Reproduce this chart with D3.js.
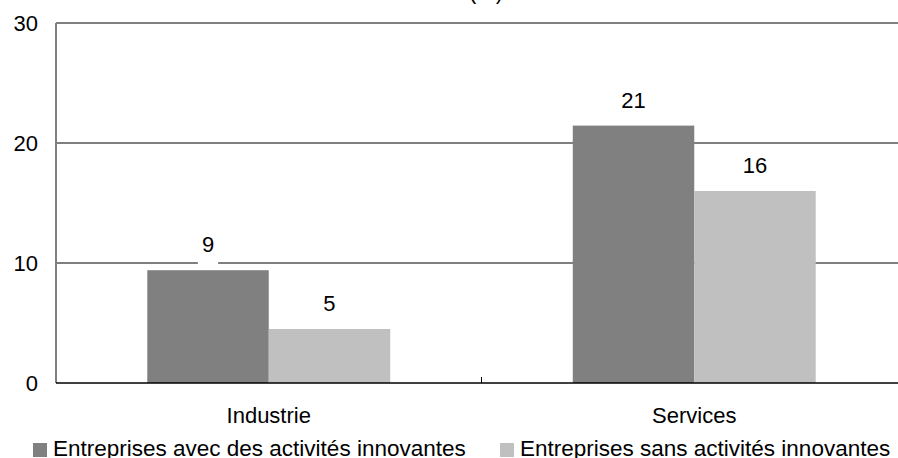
<!DOCTYPE html>
<html><head><meta charset="utf-8">
<script src="https://cdn.jsdelivr.net/npm/d3@7"></script>
<style>html,body{margin:0;padding:0;background:#fff;overflow:hidden}svg{display:block}</style>
</head><body>
<script>
const categories = ["Industrie", "Services"];
const seriesNames = ["Entreprises avec des activités innovantes", "Entreprises sans activités innovantes"];
const avecValues = [9.4, 21.45];
const sansValues = [4.5, 16.0];
const valueLabels = [["9", "21"], ["5", "16"]];
const yTicks = [0, 10, 20, 30];
const colors = ["#808080", "#c0c0c0"];

const W = 898, H = 458;
const margin = {left: 56, top: 23, right: -9, bottom: 75};
const font = "'Liberation Sans', Arial, sans-serif";
const fs = 22;

const svg = d3.select("body").append("svg").attr("width", W).attr("height", H);
const x0 = d3.scaleBand().domain(categories).range([margin.left, W - margin.right]).padding(0);
const y = d3.scaleLinear().domain([0, 30]).range([H - margin.bottom, margin.top]);
const groupFrac = 0.571;
const x1 = d3.scaleBand().domain([0, 1]).range([0, x0.bandwidth() * groupFrac]).padding(0);
const groupOffset = x0.bandwidth() * (1 - groupFrac) / 2;

// gridlines
svg.append("g").selectAll("line").data(yTicks.filter(t => t > 0 && t < 30)).join("line")
  .attr("x1", margin.left).attr("x2", W - margin.right)
  .attr("y1", d => y(d)).attr("y2", d => y(d))
  .attr("stroke", "#000").attr("stroke-width", 1);

// plot border (top & left)
svg.append("line").attr("x1", margin.left).attr("x2", W - margin.right)
  .attr("y1", y(30)).attr("y2", y(30)).attr("stroke", "#808080").attr("stroke-width", 2);
svg.append("line").attr("x1", margin.left).attr("x2", margin.left)
  .attr("y1", y(30)).attr("y2", y(0)).attr("stroke", "#808080").attr("stroke-width", 2);

const series = [avecValues, sansValues];
const data = [];
categories.forEach((c, ci) => series.forEach((s, si) => data.push({c, ci, si, v: s[ci], label: valueLabels[si][ci]})));

svg.append("g").selectAll("rect").data(data).join("rect")
  .attr("x", d => x0(d.c) + groupOffset + x1(d.si))
  .attr("width", x1.bandwidth())
  .attr("y", d => y(d.v))
  .attr("height", d => y(0) - y(d.v))
  .attr("fill", d => colors[d.si]);

// value labels with white background
const lg = svg.append("g");
data.forEach(d => {
  const cx = x0(d.c) + groupOffset + x1(d.si) + x1.bandwidth() / 2;
  const by = y(d.v) - 18;
  const t = lg.append("text").attr("x", cx).attr("y", by).attr("text-anchor", "middle")
    .attr("font-family", font).attr("font-size", fs).attr("fill", "#000").text(d.label);
  const bb = t.node().getBBox();
  lg.insert("rect", "text").attr("x", bb.x - 4).attr("y", bb.y).attr("width", bb.width + 8)
    .attr("height", bb.height + 8).attr("fill", "#fff");
});

// baseline axis
svg.append("line").attr("x1", margin.left).attr("x2", W - margin.right)
  .attr("y1", y(0)).attr("y2", y(0)).attr("stroke", "#000").attr("stroke-width", 1.5);
// category separator ticks (inside)
const seps = categories.slice(1).map(c => x0(c));
svg.append("g").selectAll("line").data(seps).join("line")
  .attr("x1", d => d).attr("x2", d => d).attr("y1", y(0)).attr("y2", y(0) - 6)
  .attr("stroke", "#000").attr("stroke-width", 1);

// category labels
svg.append("g").selectAll("text").data(categories).join("text")
  .attr("x", d => x0(d) + x0.bandwidth() / 2).attr("y", 423)
  .attr("text-anchor", "middle").attr("font-family", font).attr("font-size", fs).text(d => d);

// y tick labels
svg.append("g").selectAll("text").data(yTicks).join("text")
  .attr("x", 38).attr("y", d => y(d)).attr("dy", "0.35em")
  .attr("text-anchor", "end").attr("font-family", font).attr("font-size", fs).text(d => d);

// title (partially cut off, as in the reference)
svg.append("text").attr("x", 486).attr("y", -1).attr("text-anchor", "middle")
  .attr("font-family", font).attr("font-size", fs).text("(%)");

// legend
const legendX = [33, 500];
seriesNames.forEach((n, i) => {
  svg.append("rect").attr("x", legendX[i]).attr("y", 443).attr("width", 14).attr("height", 14).attr("fill", colors[i]);
  svg.append("text").attr("x", legendX[i] + 20).attr("y", 456).attr("font-family", font)
    .attr("font-size", 22.5).text(n);
});
</script>
</body></html>
